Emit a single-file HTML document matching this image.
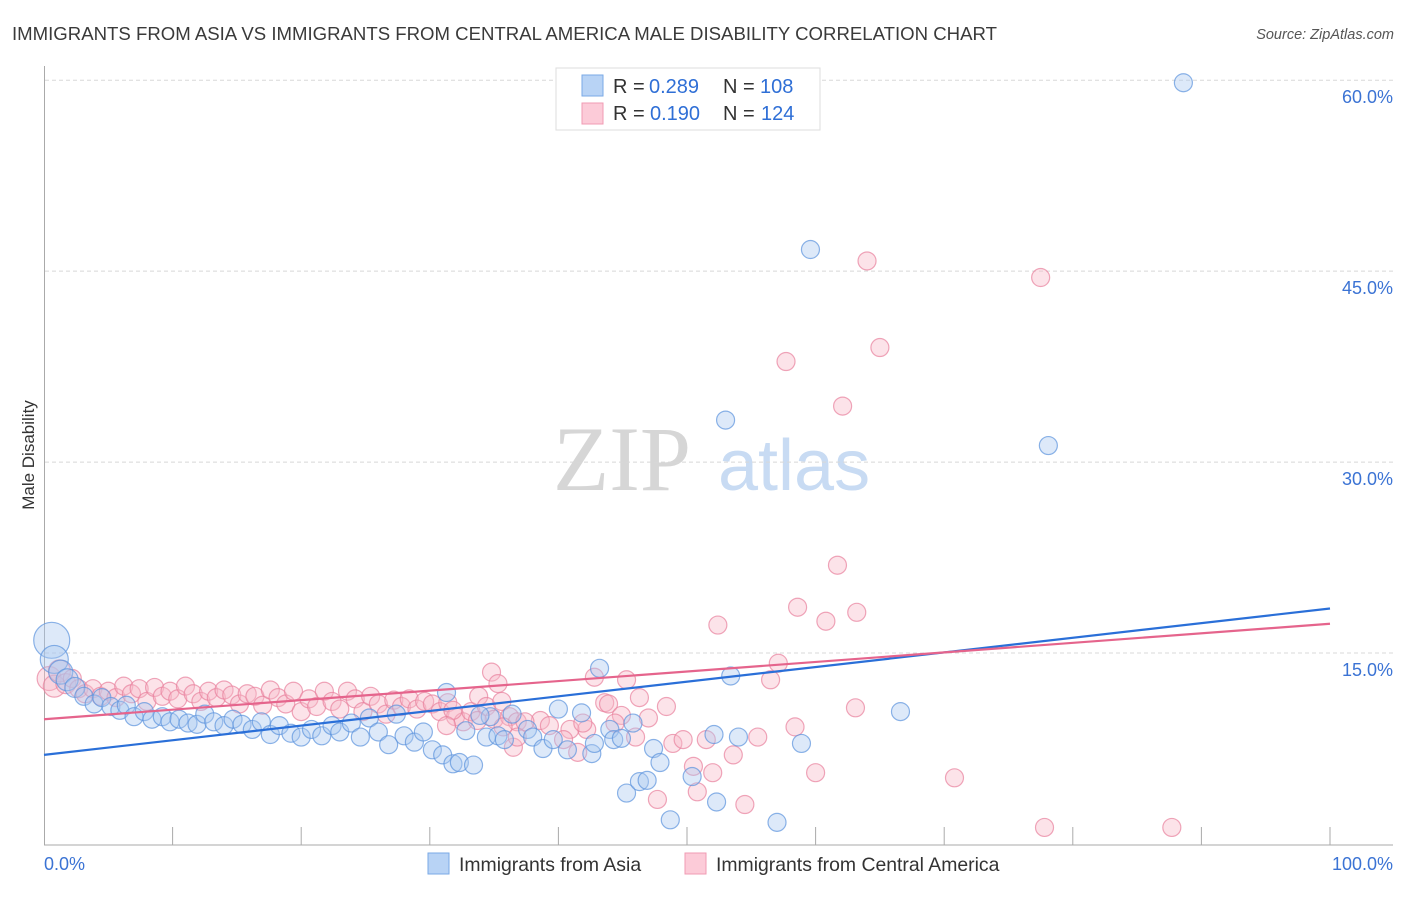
<!DOCTYPE html>
<html><head><meta charset="utf-8"><style>
body{margin:0;background:#fff;font-family:"Liberation Sans",sans-serif;}
svg text{font-family:"Liberation Sans",sans-serif;}
</style></head><body>
<svg id="chart" width="1406" height="892" viewBox="0 0 1406 892" xmlns="http://www.w3.org/2000/svg">
<text x="12" y="40" font-size="18.6" fill="#3a3a3a">IMMIGRANTS FROM ASIA VS IMMIGRANTS FROM CENTRAL AMERICA MALE DISABILITY CORRELATION CHART</text>
<text x="1394" y="39" font-size="14.5" fill="#555" font-style="italic" text-anchor="end">Source: ZipAtlas.com</text>
<g>
<text x="553" y="490" font-size="92" fill="#d6d6d6" style="font-family:'Liberation Serif',serif">ZIP</text>
<text x="718" y="490" font-size="72" fill="#c8dbf3">atlas</text>
</g>
<g id="grid"></g>
<g id="axes"></g>
<g id="pink"></g>
<g id="blue"></g>
<g id="trends"></g>
<text transform="translate(34,455) rotate(-90)" font-size="17" fill="#333" text-anchor="middle">Male Disability</text>
<g>
<rect x="556" y="68" width="264" height="62" fill="#fff" stroke="#ddd"/>
<rect x="582" y="75" width="21" height="21" fill="#b8d3f5" stroke="#7aaae6"/>
<rect x="582" y="103" width="21" height="21" fill="#fccbd8" stroke="#f09bb3"/>
<text x="613" y="93" font-size="20" fill="#333">R =</text>
<text x="649" y="93" font-size="20" fill="#2f6fd6">0.289</text>
<text x="723" y="93" font-size="20" fill="#333">N =</text>
<text x="760" y="93" font-size="20" fill="#2f6fd6">108</text>
<text x="613" y="120" font-size="20" fill="#333">R =</text>
<text x="650" y="120" font-size="20" fill="#2f6fd6">0.190</text>
<text x="723" y="120" font-size="20" fill="#333">N =</text>
<text x="761" y="120" font-size="20" fill="#2f6fd6">124</text>
</g>
<g>
<rect x="428" y="853" width="21" height="21" fill="#b8d3f5" stroke="#7aaae6"/>
<text x="459" y="871" font-size="19.4" fill="#333">Immigrants from Asia</text>
<rect x="685" y="853" width="21" height="21" fill="#fccbd8" stroke="#f09bb3"/>
<text x="716" y="871" font-size="19.4" fill="#333">Immigrants from Central America</text>
</g>
</svg>
<script>
const yTicks=[15,30,45,60];
const yTickLabels=["15.0%","30.0%","45.0%","60.0%"];
const xTicks=[0,10,20,30,40,50,60,70,80,90,100];
const xEndLabels=["0.0%","100.0%"];
const asiaPoints=[[0.6,16.0],[0.8,14.5],[1.3,13.5],[1.8,12.9],[2.4,12.3],[3.1,11.6],[3.9,11.0],[4.5,11.5],[5.2,10.8],[5.9,10.5],[6.4,10.9],[7.0,10.0],[7.8,10.4],[8.4,9.8],[9.2,10.0],[9.8,9.6],[10.5,9.8],[11.2,9.5],[11.9,9.4],[12.5,10.2],[13.2,9.6],[14.0,9.3],[14.7,9.8],[15.4,9.4],[16.2,9.0],[16.9,9.6],[17.6,8.6],[18.3,9.3],[19.2,8.7],[20.0,8.4],[20.8,9.0],[21.6,8.5],[22.4,9.3],[23.0,8.8],[23.9,9.5],[24.6,8.4],[25.3,9.9],[26.0,8.8],[26.8,7.8],[27.4,10.2],[28.0,8.5],[28.8,8.0],[29.5,8.8],[30.2,7.4],[31.3,11.9],[43.2,13.8],[53.4,13.2],[40.0,10.6],[41.8,10.3],[36.4,10.2],[34.7,10.0],[33.9,10.1],[32.8,8.9],[34.4,8.4],[35.3,8.5],[35.8,8.2],[37.6,9.0],[38.0,8.4],[38.8,7.5],[39.6,8.2],[40.7,7.4],[42.6,7.1],[42.8,7.9],[44.0,9.0],[44.3,8.2],[44.9,8.3],[45.8,9.5],[47.4,7.5],[47.9,6.4],[45.3,4.0],[46.3,4.9],[46.9,5.0],[48.7,1.9],[50.4,5.3],[52.1,8.6],[54.0,8.4],[52.3,3.3],[58.9,7.9],[57.0,1.7],[66.6,10.4],[31.0,7.0],[31.8,6.3],[32.3,6.4],[33.4,6.2],[88.6,59.8],[59.6,46.7],[53.0,33.3],[78.1,31.3]];
const asiaSizes=[18,14,12,11,10];
const centralAmericaPoints=[[0.4,13.0],[0.8,12.4],[1.2,13.6],[1.7,12.6],[2.2,13.0],[2.7,12.2],[3.2,11.8],[3.8,12.2],[4.4,11.6],[5.0,12.0],[5.6,11.5],[6.2,12.4],[6.8,11.8],[7.4,12.2],[8.0,11.2],[8.6,12.3],[9.2,11.6],[9.8,12.0],[10.4,11.4],[11.0,12.4],[11.6,11.8],[12.2,11.2],[12.8,12.0],[13.4,11.5],[14.0,12.1],[14.6,11.7],[15.2,11.0],[15.8,11.8],[16.4,11.6],[17.0,10.9],[17.6,12.1],[18.2,11.5],[18.8,11.0],[19.4,12.0],[20.0,10.4],[20.6,11.4],[21.2,10.8],[21.8,12.0],[22.4,11.2],[23.0,10.6],[23.6,12.0],[24.2,11.4],[24.8,10.4],[25.4,11.6],[26.0,11.0],[26.6,10.2],[27.2,11.3],[27.8,10.8],[28.4,11.4],[29.0,10.6],[29.6,11.2],[30.2,11.0],[30.8,10.4],[31.4,11.1],[32.0,10.0],[32.6,9.6],[33.2,10.4],[33.8,11.6],[34.4,10.8],[35.0,9.8],[35.6,11.2],[36.2,10.0],[36.8,9.6],[34.8,13.5],[35.3,12.6],[42.8,13.1],[45.3,12.9],[46.3,11.5],[48.4,10.8],[47.0,9.9],[43.6,11.1],[43.9,11.0],[44.9,10.1],[46.0,8.4],[44.4,9.5],[42.2,9.0],[40.9,9.0],[41.9,9.5],[38.6,9.7],[39.3,9.3],[37.4,9.6],[36.5,7.6],[41.5,7.2],[40.4,8.2],[36.8,8.4],[35.7,9.2],[33.7,9.7],[31.8,10.5],[31.3,9.3],[48.9,7.9],[49.7,8.2],[51.5,8.2],[50.5,6.1],[50.8,4.1],[47.7,3.5],[52.0,5.6],[53.6,7.0],[55.5,8.4],[54.5,3.1],[56.5,12.9],[57.1,14.2],[58.4,9.2],[60.0,5.6],[63.1,10.7],[64.0,45.8],[77.5,44.5],[65.0,39.0],[57.7,37.9],[62.1,34.4],[61.7,21.9],[58.6,18.6],[63.2,18.2],[60.8,17.5],[52.4,17.2],[70.8,5.2],[77.8,1.3],[87.7,1.3]];
const centralAmericaSizes=[12,11,11,10];
const asiaTrend=[7.0,18.5];
const centralAmericaTrend=[9.8,17.3];

const NS="http://www.w3.org/2000/svg";
function xs(v){return 44+v*12.86;}
function ys(v){return 844-v*12.73;}
function mk(tag,attrs,parent){const e=document.createElementNS(NS,tag);for(const k in attrs)e.setAttribute(k,attrs[k]);parent.appendChild(e);return e;}
const grid=document.getElementById('grid'),axes=document.getElementById('axes');
yTicks.forEach((t,i)=>{
  const l=mk('line',{x1:45,x2:1393,y1:ys(t),y2:ys(t),stroke:'#d8d8d8','stroke-dasharray':'4,3'},grid);
  
  
  const tx=mk('text',{x:1393,y:ys(t)+23,'font-size':18,fill:'#3b73d4','text-anchor':'end'},axes);
  tx.textContent=yTickLabels[i];
  
  
});
const yl=mk('line',{x1:44.5,x2:44.5,y1:66,y2:845,stroke:'#aaa'},axes);


const xl=mk('line',{x1:44,x2:1393,y1:845,y2:845,stroke:'#aaa'},axes);


xTicks.forEach(t=>{
  if(t===0)return;
  const l=mk('line',{x1:xs(t),x2:xs(t),y1:827,y2:845,stroke:'#aaa'},axes);
  
  
});
const x0=mk('text',{x:44,y:870,'font-size':18,fill:'#3b73d4'},axes);x0.textContent=xEndLabels[0];


const x1=mk('text',{x:1393,y:870,'font-size':18,fill:'#3b73d4','text-anchor':'end'},axes);x1.textContent=xEndLabels[1];


function drawSeries(pts,sizes,g,fill,stroke,name){
  pts.forEach((p,i)=>{
    const r=sizes[i]||9;
    const c=mk('circle',{cx:xs(p[0]),cy:ys(p[1]),r:r,fill:fill,'fill-opacity':0.4,stroke:stroke,'stroke-opacity':0.7,'stroke-width':1.2},g);
    
    
  });
}
drawSeries(centralAmericaPoints,centralAmericaSizes,document.getElementById('pink'),'#f8b8c9','#e8809d','central-america-point');
drawSeries(asiaPoints,asiaSizes,document.getElementById('blue'),'#a9c9f1','#5b93dd','asia-point');
const tg=document.getElementById('trends');
const tb=mk('line',{x1:xs(0),x2:xs(100),y1:ys(asiaTrend[0]),y2:ys(asiaTrend[1]),stroke:'#2a6fd8','stroke-width':2.2},tg);


const tp=mk('line',{x1:xs(0),x2:xs(100),y1:ys(centralAmericaTrend[0]),y2:ys(centralAmericaTrend[1]),stroke:'#e5648c','stroke-width':2.2},tg);


</script>
</body></html>
